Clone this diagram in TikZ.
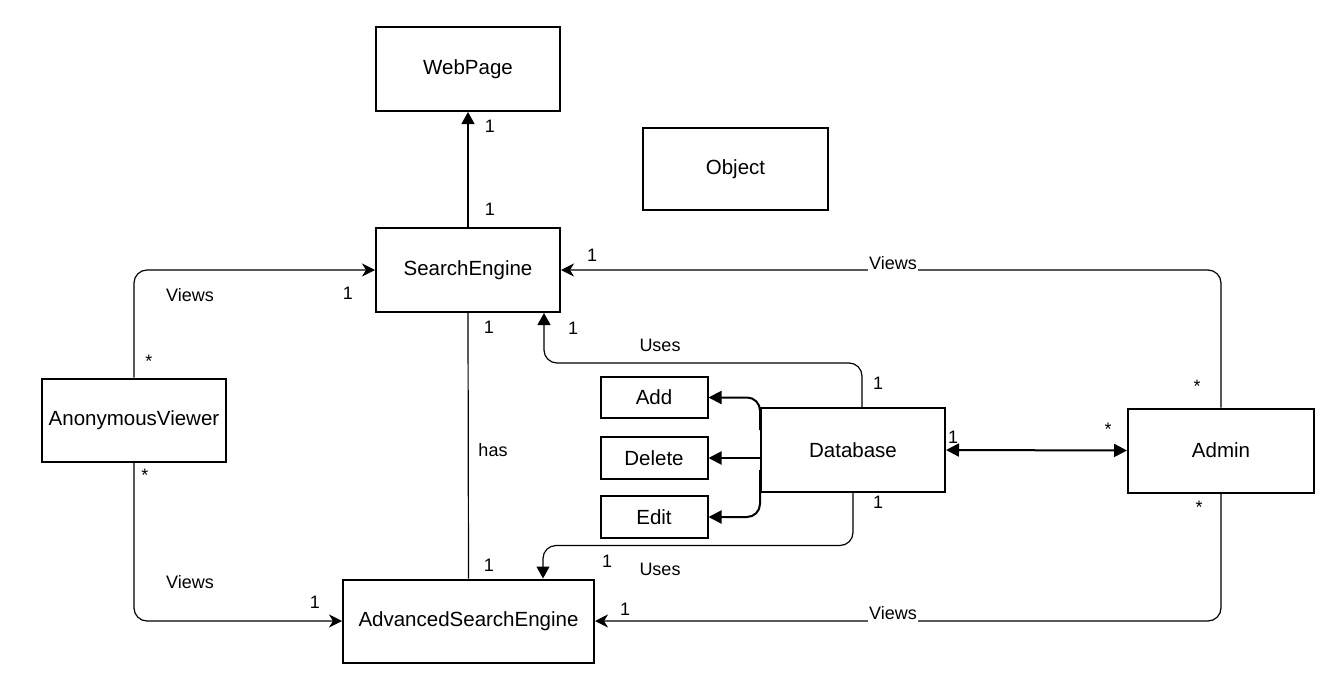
\documentclass[tikz,border=0pt]{standalone}
\usepackage{fontspec}
\setmainfont{Liberation Sans}
\usetikzlibrary{arrows.meta,calc}
\begin{document}
\begin{tikzpicture}[x=0.5pt,y=-0.5pt,
  cls/.style={draw, line width=1pt, inner sep=0pt, font=\fontsize{10.25}{12}\selectfont},
  mult/.style={font=\fontsize{9}{11}\selectfont, inner sep=0pt},
  onlinelabel/.style={mult, fill=white, inner xsep=0.6pt, inner ysep=1.6pt, anchor=base},
  assoc/.style={line width=0.6pt, rounded corners=6.5pt},
  viewsarrow/.style={assoc, -{Stealth[length=6.5pt,width=6.5pt,inset=2pt]}},
  usesarrow/.style={assoc, -{Triangle[length=6pt,width=6.5pt]}},
  opline/.style={line width=1pt, rounded corners=6.5pt, -{Triangle[length=6.5pt,width=6.5pt]}},
  link/.style={line width=1pt, {Triangle[length=6.5pt,width=6.5pt]}-{Triangle[length=6.5pt,width=6.5pt]}}
]
\useasboundingbox (0,0) rectangle (1334,685);

% classes
\node[cls, minimum width=92pt,   minimum height=42pt]   (web)   at (468,69)    {WebPage};
\node[cls, minimum width=92.5pt, minimum height=41pt]   (obj)   at (735.5,169) {Object};
\node[cls, minimum width=92pt,   minimum height=42pt]   (se)    at (468,270)   {SearchEngine};
\node[cls, minimum width=92pt,   minimum height=41.5pt] (av)    at (134,420)   {AnonymousViewer};
\node[cls, minimum width=92pt,   minimum height=42pt]   (db)    at (853,450)   {Database};
\node[cls, minimum width=93pt,   minimum height=42pt]   (admin) at (1221,450.5) {Admin};
\node[cls, minimum width=125.5pt,minimum height=41.5pt] (ase)   at (468.5,621) {AdvancedSearchEngine};
\node[cls, minimum width=53.5pt, minimum height=20.5pt] (add)   at (654,397.5) {Add};
\node[cls, minimum width=53.5pt, minimum height=21pt]   (del)   at (654,458)   {Delete};
\node[cls, minimum width=53.5pt, minimum height=21pt]   (edit)  at (654,517)   {Edit};

% SearchEngine -> WebPage
\draw[usesarrow] (se.north) -- (web.south);
\node[mult] (m1) at (490,126) {1};
\node[mult] (m2) at (490,209) {1};

% AnonymousViewer views both engines
\draw[viewsarrow] (av.north) |- (se.west);
\node[mult] (l1) at (190,295) {Views};
\node[mult] (m3) at (348,293) {1};
\node[mult] (m4) at (149,361) {*};
\draw[viewsarrow] (av.south) |- (ase.west);
\node[mult] (m5) at (145,475) {*};
\node[mult] (l2) at (190,582) {Views};
\node[mult] (m6) at (315,602) {1};

% SearchEngine has AdvancedSearchEngine
\draw[assoc] (se.south) -- (ase.north);
\node[mult] (m7) at (489,327) {1};
\node[mult] (l3) at (493,450) {has};
\node[mult] (m8) at (489,565) {1};

% Database uses the engines
\draw[usesarrow] ($(db.north)+(9,0)$) |- ($(se.south)+(76,50)$) -- ($(se.south)+(76,0)$);
\node[mult] (m9)  at (573,328) {1};
\node[mult] (l4)  at (660,345) {Uses};
\node[mult] (m10) at (878,383) {1};
\draw[usesarrow] (db.south) |- ($(ase.north)+(74.5,-33)$) -- ($(ase.north)+(74.5,0)$);
\node[mult] (m11) at (878,502) {1};
\node[mult] (l5)  at (660,569) {Uses};
\node[mult] (m12) at (607,561) {1};

% Database operations
\draw[opline] ($(db.west)+(0,-20)$) |- (add.east);
\draw[opline] (del.east -| db.west) -- (del.east);
\draw[opline] ($(db.west)+(0,20)$) |- (edit.east);

% Database <-> Admin
\draw[link] (db.east) -- (admin.west);
\node[mult] (m13) at (953,437) {1};
\node[mult] (m14) at (1108,429) {*};

% Admin views both engines
\draw[viewsarrow] (admin.north) |- (se.east);
\node[onlinelabel] (l6) at (893,269) {Views};
\node[mult] (m15) at (592,255) {1};
\node[mult] (m16) at (1197,386) {*};
\draw[viewsarrow] (admin.south) |- (ase.east);
\node[onlinelabel] (l7) at (893,619) {Views};
\node[mult] (m17) at (625,609) {1};
\node[mult] (m18) at (1199,507) {*};
\end{tikzpicture}
\end{document}
